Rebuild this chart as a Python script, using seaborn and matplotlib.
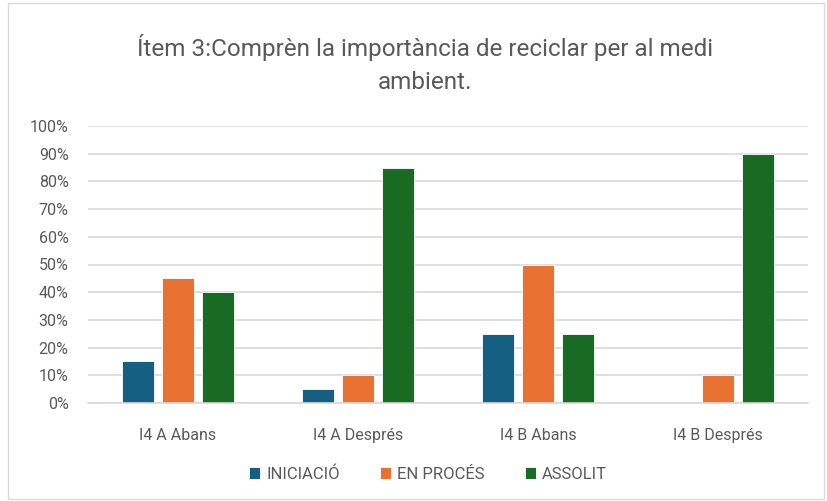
import seaborn as sns
import matplotlib.pyplot as plt
import pandas as pd
from matplotlib.patches import Rectangle
from matplotlib.ticker import PercentFormatter

sns.set_theme(style="white")
plt.rcParams["font.family"] = ["Roboto", "DejaVu Sans"]

# Data
categories = ["I4 A Abans", "I4 A Després", "I4 B Abans", "I4 B Després"]
series = ["INICIACIÓ", "EN PROCÉS", "ASSOLIT"]
iniciacio = [15, 5, 25, 0]
en_proces = [45, 10, 50, 10]
assolit = [40, 85, 25, 90]
colors = ["#156082", "#e97132", "#196b24"]

rows = []
for name, vals in zip(series, [iniciacio, en_proces, assolit]):
    for cat, v in zip(categories, vals):
        rows.append({"cat": cat, "serie": name, "val": v})
df = pd.DataFrame(rows)

fig = plt.figure(figsize=(8.28, 5.01), dpi=100)
ax = fig.add_axes([88 / 828, 1 - 403 / 501, 720 / 828, 277 / 501])

sns.barplot(data=df, x="cat", y="val", hue="serie", palette=colors,
            saturation=1, width=0.667, gap=0.2, ax=ax, edgecolor="white",
            linewidth=0.6, errorbar=None)

ax.set_ylim(0, 100)
ax.set_xlim(-0.5, 3.5)
ax.set_yticks(range(0, 101, 10))
ax.yaxis.set_major_formatter(PercentFormatter(decimals=0))
ax.yaxis.grid(True, color="#d9d9d9", linewidth=1.2)
ax.set_axisbelow(True)
for s in ["top", "right", "left"]:
    ax.spines[s].set_visible(False)
ax.spines["bottom"].set_color("#d9d9d9")
ax.spines["bottom"].set_linewidth(1.2)
ax.tick_params(axis="both", length=0, labelsize=11.5, colors="#595959")
ax.tick_params(axis="x", pad=18)
ax.tick_params(axis="y", pad=14)
ax.set_xlabel("")
ax.set_ylabel("")

fig.text(425 / 828, 1 - 64 / 501,
         "Ítem 3:Comprèn la importància de reciclar per al medi\nambient.",
         ha="center", va="center", fontsize=17.5, color="#595959", linespacing=1.55)

handles, labels = ax.get_legend_handles_labels()
ax.legend(handles, labels, loc="center", bbox_to_anchor=(428 / 828, 1 - 474 / 501),
          bbox_transform=fig.transFigure, ncol=3, frameon=False, fontsize=12,
          labelcolor="#595959", handlelength=0.7, handleheight=0.7,
          handletextpad=0.35, columnspacing=2.4)

fig.patches.append(Rectangle((8 / 828, 0.004), 816 / 828, 0.99, transform=fig.transFigure,
                             fill=False, edgecolor="#d9d9d9", linewidth=1))

plt.savefig("out.png", dpi=100)
